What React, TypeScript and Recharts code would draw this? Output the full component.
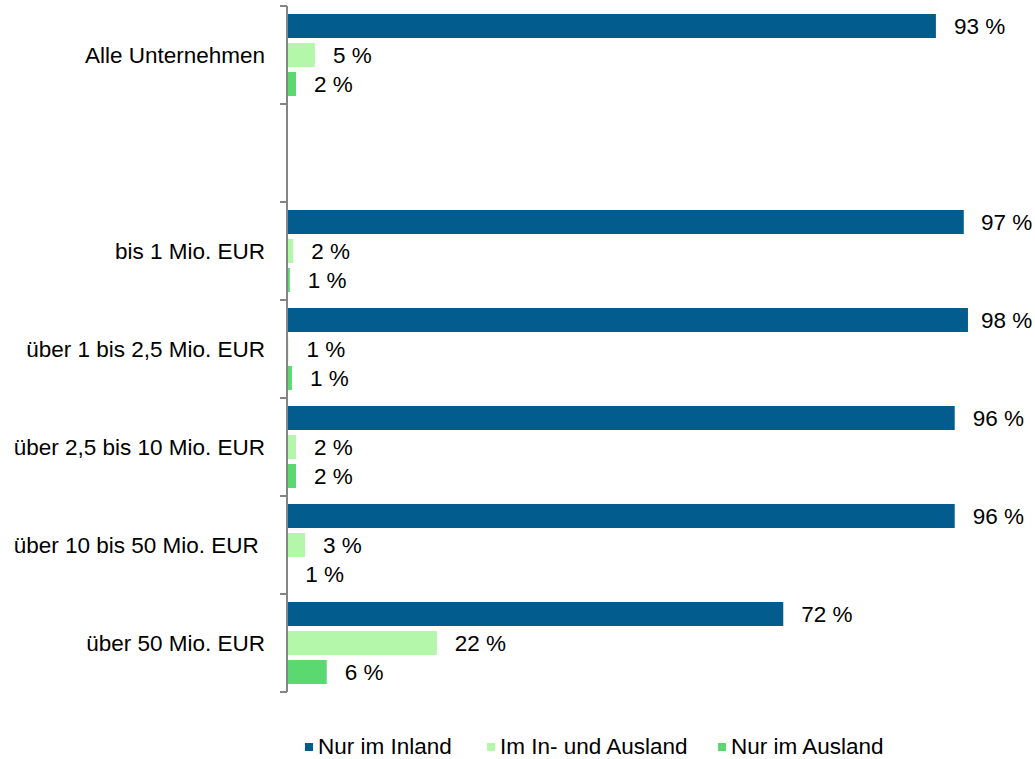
import React from 'react'
import { BarChart, Bar, XAxis, YAxis, LabelList } from 'recharts'

const categories = [
  'Alle Unternehmen',
  '',
  'bis 1 Mio. EUR',
  'über 1 bis 2,5 Mio. EUR',
  'über 2,5 bis 10 Mio. EUR',
  'über 10 bis 50 Mio. EUR\u00A0',
  'über 50 Mio. EUR',
]

// bar lengths, labels as printed
const inland = [93.1, null, 97.1, 97.7, 95.8, 95.8, 71.2]
const beides = [4.0, null, 0.9, 0.2, 1.3, 2.6, 21.5]
const ausland = [1.3, null, 0.4, 0.7, 1.3, 0.05, 5.7]

const inlandLabels = ['93 %', '', '97 %', '98 %', '96 %', '96 %', '72 %']
const beidesLabels = ['5 %', '', '2 %', '1 %', '2 %', '3 %', '22 %']
const auslandLabels = ['2 %', '', '1 %', '1 %', '2 %', '1 %', '6 %']

const data = categories.map((name, i) => ({
  name,
  inland: inland[i],
  beides: beides[i],
  ausland: ausland[i],
  inlandLabel: inlandLabels[i],
  beidesLabel: beidesLabels[i],
  auslandLabel: auslandLabels[i],
}))

const BLUE = '#035c8e'
const LIGHT = '#b4f7aa'
const GREEN = '#5bd86f'
const AXIS = '#858585'
const FONT = 'Arial, "Liberation Sans", sans-serif'
const FS = 22.5

const TOP = 6
const PLOT_H = 686
const BAND = PLOT_H / categories.length

const CategoryTick = (props: any) => {
  const { x, y, payload, index } = props
  const ax = x + 22
  const last = index === categories.length - 1
  return (
    <g>
      <line x1={ax - 7} x2={ax} y1={y - BAND / 2} y2={y - BAND / 2} stroke={AXIS} strokeWidth={2} />
      {last && <line x1={ax - 7} x2={ax} y1={y + BAND / 2} y2={y + BAND / 2} stroke={AXIS} strokeWidth={2} />}
      <text x={x} y={y} dy={8} textAnchor="end" fill="#000" fontSize={FS} fontFamily={FONT}>
        {payload.value}
      </text>
    </g>
  )
}

// value label right of the bar, kept inside the picture
const ValueLabel = (props: any) => {
  const { x, y, width, height, value } = props
  if (!value) return null
  const tx = Math.min(Number(x) + Number(width) + 18, 981)
  return (
    <text x={tx} y={Number(y) + Number(height) / 2} dy={8} fill="#000" fontSize={FS} fontFamily={FONT}>
      {value}
    </text>
  )
}

const legendItems = [
  { name: 'Nur im Inland', color: BLUE, left: 305 },
  { name: 'Im In- und Ausland', color: LIGHT, left: 487 },
  { name: 'Nur im Ausland', color: GREEN, left: 718 },
]

export default function App() {
  return (
    <div style={{ position: 'absolute', left: 0, top: 0, width: 1035, height: 759, background: '#fff' }}>
      <BarChart
        width={1035}
        height={759}
        data={data}
        layout="vertical"
        margin={{ top: TOP, right: 51, left: 0, bottom: 759 - TOP - PLOT_H }}
        barSize={24}
        barGap={5}
      >
        <XAxis type="number" domain={[0, 100]} hide />
        <YAxis
          type="category"
          dataKey="name"
          width={287}
          axisLine={{ stroke: AXIS, strokeWidth: 2 }}
          tickLine={false}
          tickSize={0}
          tickMargin={22}
          interval={0}
          tick={<CategoryTick />}
        />
        <Bar dataKey="inland" fill={BLUE} isAnimationActive={false}>
          <LabelList dataKey="inlandLabel" content={<ValueLabel />} />
        </Bar>
        <Bar dataKey="beides" fill={LIGHT} isAnimationActive={false}>
          <LabelList dataKey="beidesLabel" content={<ValueLabel />} />
        </Bar>
        <Bar dataKey="ausland" fill={GREEN} isAnimationActive={false}>
          <LabelList dataKey="auslandLabel" content={<ValueLabel />} />
        </Bar>
      </BarChart>
      {legendItems.map((it) => (
        <div
          key={it.name}
          style={{
            position: 'absolute',
            left: it.left,
            top: 734,
            display: 'flex',
            alignItems: 'center',
            fontFamily: FONT,
            fontSize: FS,
            color: '#000',
            whiteSpace: 'nowrap',
          }}
        >
          <span style={{ width: 8, height: 8, background: it.color, marginRight: 5, display: 'inline-block' }} />
          {it.name}
        </div>
      ))}
    </div>
  )
}
